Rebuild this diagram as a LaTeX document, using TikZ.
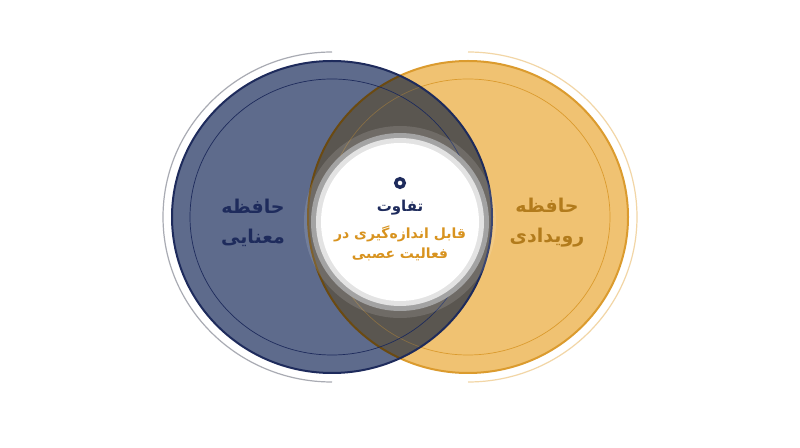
\documentclass[tikz,border=0pt]{standalone}
\usepackage{fontspec}
\newfontfamily\farsi[Script=Arabic]{DejaVu Sans}
\TeXXeTstate=1
\definecolor{navy}{HTML}{1E2B5C}
\definecolor{slate}{HTML}{5E6B8C}
\definecolor{sand}{HTML}{F0C272}
\definecolor{amber}{HTML}{DB9B2E}
\definecolor{bronze}{HTML}{B27B1C}
\definecolor{gold}{HTML}{D8931F}
\definecolor{lens}{HTML}{5A5650}
\definecolor{haze}{HTML}{A9ABB3}
\definecolor{pale}{HTML}{F2D6A6}
\tikzset{
  memlabel/.style={align=center,font=\farsi\bfseries\fontsize{19}{30}\selectfont},
  titlelabel/.style={align=center,font=\farsi\bfseries\fontsize{15}{21}\selectfont},
  midlabel/.style={align=center,font=\farsi\bfseries\fontsize{14}{20}\selectfont},
}

\begin{document}
\begin{tikzpicture}[x=1pt,y=1pt]
      \useasboundingbox (0,0) rectangle (800,447);
      \fill[white] (0,0) rectangle (800,447);

      \draw[haze,line width=1.2] (332,395) arc[start angle=90,end angle=270,x radius=169,y radius=165];
      \draw[pale,line width=1.2] (468,395) arc[start angle=90,end angle=-90,x radius=169,y radius=165];

      \fill[sand] (468,230) ellipse [x radius=160,y radius=156];
      \draw[amber,line width=0.7] (468,230) ellipse [x radius=142,y radius=138];
      \draw[amber,line width=2] (468,230) ellipse [x radius=160,y radius=156];
      \fill[slate] (332,230) ellipse [x radius=160,y radius=156];

      \begin{scope}
        \path[clip] (332,230) ellipse [x radius=160,y radius=156];
        \path[fill=lens] (468,230) ellipse [x radius=160,y radius=156];
        \draw[amber,opacity=0.35,line width=0.7] (468,230) ellipse [x radius=142,y radius=138];
        \draw[bronze!60!black,line width=2] (468,230) ellipse [x radius=160,y radius=156];
      \end{scope}

      \draw[navy,line width=0.7] (332,230) ellipse [x radius=142,y radius=138];
      \draw[navy,line width=2] (332,230) ellipse [x radius=160,y radius=156];

      \fill[white,fill opacity=0.13] (400,225) circle [radius=96];
      \fill[black!36] (400,225) circle [radius=89];
      \fill[black!11] (400,225) circle [radius=84];
      \fill[white] (400,225) circle [radius=79];
      \draw[navy,line width=3.4] (400,264) circle [radius=4.3];

      \node[memlabel,text=navy] (semantic) at (253,224) {\beginR حافظه\endR\\\beginR معنایی\endR};
      \node[memlabel,text=bronze] (episodic) at (547,224) {\beginR حافظه\endR\\\beginR رویدادی\endR};
      \node[titlelabel,text=navy] (diff) at (400,239) {\beginR تفاوت\endR};
      \node[midlabel,text=gold] (neural) at (400,204) {\beginR قابل اندازه‌گیری در\endR\\\beginR فعالیت عصبی\endR};
    \end{tikzpicture}
\end{document}
